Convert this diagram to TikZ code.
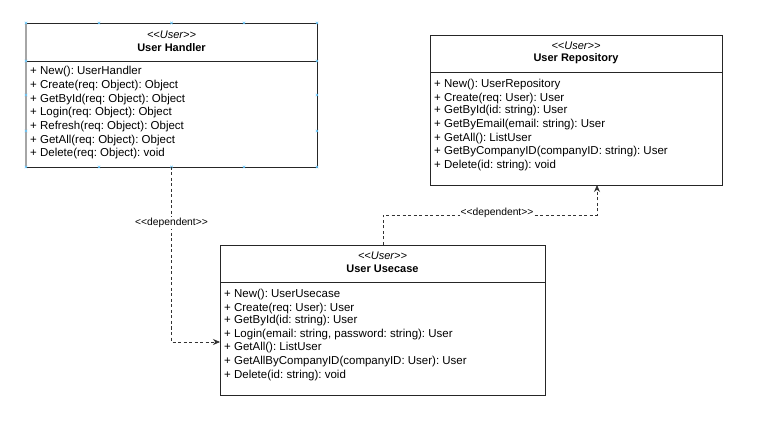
\documentclass[tikz,border=0pt]{standalone}
\usepackage{fontspec}
\setmainfont{Liberation Sans}
\usetikzlibrary{arrows.meta}
\frenchspacing
% guillemet-free double angle brackets
\newcommand{\dlt}{<\kern0pt<}
\newcommand{\dgt}{>\kern0pt>}
\begin{document}
\begin{tikzpicture}[x=1pt,y=-1pt,
  box/.style={draw=black!85,line width=0.9pt},
  stereo/.style={font=\fontsize{11}{12}\selectfont\itshape,inner sep=0pt},
  title/.style={font=\fontsize{11}{12}\selectfont\bfseries,inner sep=0pt},
  member/.style={font=\fontsize{11.5}{13}\selectfont,anchor=west,inner sep=0pt},
  deplabel/.style={font=\fontsize{10.3}{11}\selectfont,fill=white,inner sep=1pt},
  dep/.style={dashed,dash pattern=on 3pt off 2.5pt,line width=0.7pt,black!80,-{Stealth[length=7pt,width=6pt]}},
  handle/.style={draw=blue!35!cyan!60!white,line width=0.5pt}
]
\useasboundingbox[fill=white] (0,0) rectangle (773,427);

% ---- User Handler ----
\draw[box] (26,23) rectangle (317,167);
\draw[box] (26,61) -- (317,61);
\draw[gray!70,line width=1.2pt] (26,23) -- (26,167);
\node[stereo] (hs) at (171.5,35) {\dlt User\dgt};
\node[title] (ht) at (171.5,48) {User Handler};
\node[member] (h1) at (30,72) {+ New(): UserHandler};
\node[member] (h2) at (30,86) {+ Create(req: Object): Object};
\node[member] (h3) at (30,100) {+ GetById(req: Object): Object};
\node[member] (h4) at (30,113) {+ Login(req: Object): Object};
\node[member] (h5) at (30,127) {+ Refresh(req: Object): Object};
\node[member] (h6) at (30,141) {+ GetAll(req: Object): Object};
\node[member] (h7) at (30,154) {+ Delete(req: Object): void};
\coordinate (hbot) at (171.5,167);

% selection handles around the handler box
\foreach \hx/\hy in {26/23,99/23,171.5/23,244/23,317/23,
                     26/167,99/167,171.5/167,244/167,317/167,
                     26/61,26/95,26/131,317/61,317/95,317/131}{
  \draw[handle] (\hx-1.3,\hy-1.3) -- (\hx+1.3,\hy+1.3) (\hx-1.3,\hy+1.3) -- (\hx+1.3,\hy-1.3);
}

% ---- User Repository ----
\draw[box] (430,35) rectangle (722,185);
\draw[box] (430,72) -- (722,72);
\node[stereo] (rs) at (576,46) {\dlt User\dgt};
\node[title] (rt) at (576,59) {User Repository};
\node[member] (r1) at (434,85) {+ New(): UserRepository};
\node[member] (r2) at (434,99) {+ Create(req: User): User};
\node[member] (r3) at (434,111) {+ GetById(id: string): User};
\node[member] (r4) at (434,125) {+ GetByEmail(email: string): User};
\node[member] (r5) at (434,139) {+ GetAll(): ListUser};
\node[member] (r6) at (434,152) {+ GetByCompanyID(companyID: string): User};
\node[member] (r7) at (434,166) {+ Delete(id: string): void};
\coordinate (rbot) at (597,185);

% ---- User Usecase ----
\draw[box] (220,245) rectangle (545,395);
\draw[box] (220,282) -- (545,282);
\node[stereo] (us) at (382.5,256) {\dlt User\dgt};
\node[title] (ut) at (382.5,269) {User Usecase};
\node[member] (u1) at (224,295) {+ New(): UserUsecase};
\node[member] (u2) at (224,309) {+ Create(req: User): User};
\node[member] (u3) at (224,321) {+ GetById(id: string): User};
\node[member] (u4) at (224,335) {+ Login(email: string, password: string): User};
\node[member] (u5) at (224,348) {+ GetAll(): ListUser};
\node[member] (u6) at (224,362) {+ GetAllByCompanyID(companyID: User): User};
\node[member] (u7) at (224,376) {+ Delete(id: string): void};
\coordinate (utop) at (383,245);
\coordinate (uleft) at (220,342);

% ---- dependencies ----
\draw[dep] (hbot) -- (171.5,342) -- (uleft);
\node[deplabel] (d1) at (171.5,223) {\dlt dependent\dgt};
\draw[dep] (utop) -- (383,215) -- (597,215) -- (rbot);
\node[deplabel] (d2) at (497,213) {\dlt dependent\dgt};
\end{tikzpicture}
\end{document}
